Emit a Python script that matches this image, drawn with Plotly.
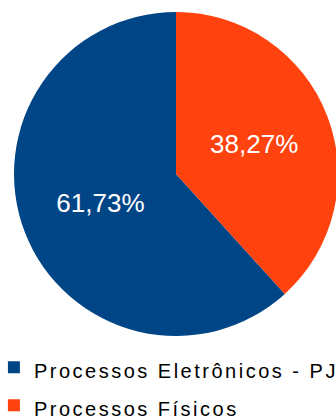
import plotly.graph_objects as go

labels = ["Processos Eletrônicos - PJe", "Processos Físicos"]
values = [61.73, 38.27]
colors = ["#004586", "#ff420e"]

legend_text = ['<span style="font-size:20px;letter-spacing:2.5px">' + s + "</span>" for s in labels]

# first slice ends at 12 o'clock, so it sweeps counterclockwise from the top
start_angle = 360 * values[1] / sum(values)

fig = go.Figure(go.Pie(
    labels=legend_text,
    values=values,
    sort=False,
    direction="clockwise",
    rotation=start_angle,
    marker=dict(colors=colors, line=dict(width=0)),
    texttemplate="%{percent:.2%}",
    textposition="inside",
    insidetextorientation="horizontal",
    textfont=dict(family="Liberation Sans, Arial, sans-serif", size=26, color="white"),
    hoverinfo="label+percent",
))

fig.update_layout(
    width=340,
    height=418,
    margin=dict(l=14, r=2, t=12, b=82, autoexpand=False),
    separators=",.",
    paper_bgcolor="white",
    plot_bgcolor="white",
    font=dict(family="Liberation Sans, Arial, sans-serif", color="black"),
    showlegend=True,
    legend=dict(
        orientation="v",
        x=-0.062,
        xanchor="left",
        y=-0.022,
        yanchor="top",
        font=dict(size=27, family="Liberation Sans, Arial, sans-serif", color="black"),
        bgcolor="rgba(0,0,0,0)",
    ),
)

fig.write_html(
    "out.html",
    config={"displayModeBar": False},
    post_script="document.body.style.margin='0';document.body.style.overflow='hidden';",
)
